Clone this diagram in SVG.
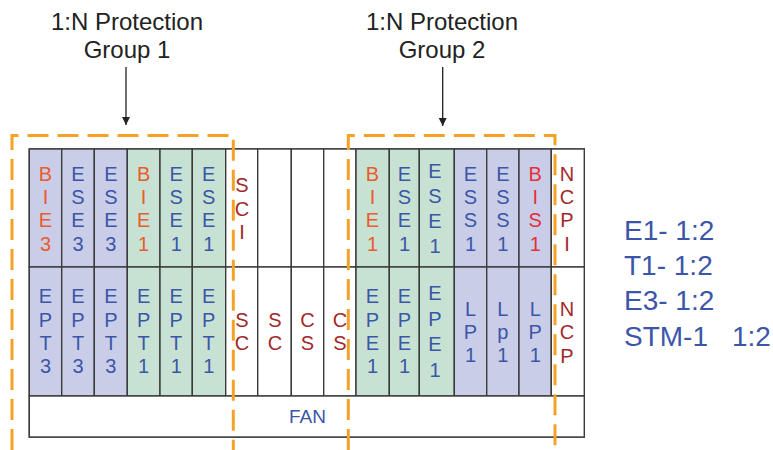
<svg xmlns="http://www.w3.org/2000/svg" width="773" height="450" viewBox="0 0 773 450">
<style>
.bg{fill:#ffffff}
.slot{stroke:#3a3a3a;stroke-width:1.4}
.p{fill:#c9cde7}
.g{fill:#c7e2d3}
.w{fill:#ffffff}
text{font-family:"Liberation Sans",Arial,sans-serif}
.t{font-size:20px;text-anchor:middle}
.f{font-size:19px;text-anchor:middle}
.b{fill:#3b56a8}
.o{fill:#ec5a2c}
.r{fill:#e3303a}
.d{fill:#a2292a}
.title{font-size:24px;fill:#222;text-anchor:middle}
.leg{font-size:28px;fill:#3b56a8}
.grp{fill:none;stroke:#f4a227;stroke-width:3;stroke-dasharray:21 9}
.arr{stroke:#222;stroke-width:1.3;fill:none}
</style>
<defs>
<marker id="ah" markerWidth="10" markerHeight="10" refX="8" refY="5" orient="auto" markerUnits="userSpaceOnUse">
<path d="M0,1 L8,5 L0,9 Z" fill="#222"/>
</marker>
</defs>
<rect class="bg" x="0" y="0" width="773" height="450"/>

<g id="titles">
<text class="title" x="127" y="30">1:N Protection</text>
<text class="title" x="127" y="58">Group 1</text>
<text class="title" x="442" y="30">1:N Protection</text>
<text class="title" x="442" y="58">Group 2</text>
</g>

<g id="chassis">
<rect class="slot w" x="29.3" y="149" width="555" height="288"/>
</g>

<g id="t0"><rect class="slot p" x="29.3" y="149" width="32.4" height="118"/><text class="t o" x="45.5" y="180.7">B<tspan x="45.5" dy="23.3">I</tspan><tspan x="45.5" dy="23.3">E</tspan><tspan x="45.5" dy="23.3">3</tspan></text></g>
<g id="t1"><rect class="slot p" x="61.7" y="149" width="32.6" height="118"/><text class="t b" x="78" y="180.7">E<tspan x="78" dy="23.3">S</tspan><tspan x="78" dy="23.3">E</tspan><tspan x="78" dy="23.3">3</tspan></text></g>
<g id="t2"><rect class="slot p" x="94.3" y="149" width="33" height="118"/><text class="t b" x="110.8" y="180.7">E<tspan x="110.8" dy="23.3">S</tspan><tspan x="110.8" dy="23.3">E</tspan><tspan x="110.8" dy="23.3">3</tspan></text></g>
<g id="t3"><rect class="slot g" x="127.3" y="149" width="32.7" height="118"/><text class="t o" x="143.6" y="180.7">B<tspan x="143.6" dy="23.3">I</tspan><tspan x="143.6" dy="23.3">E</tspan><tspan x="143.6" dy="23.3">1</tspan></text></g>
<g id="t4"><rect class="slot g" x="160" y="149" width="32.3" height="118"/><text class="t b" x="176.2" y="180.7">E<tspan x="176.2" dy="23.3">S</tspan><tspan x="176.2" dy="23.3">E</tspan><tspan x="176.2" dy="23.3">1</tspan></text></g>
<g id="t5"><rect class="slot g" x="192.3" y="149" width="33.4" height="118"/><text class="t b" x="208.7" y="180.7">E<tspan x="208.7" dy="23.3">S</tspan><tspan x="208.7" dy="23.3">E</tspan><tspan x="208.7" dy="23.3">1</tspan></text></g>
<g id="t6"><rect class="slot w" x="225.7" y="149" width="32" height="118"/><text class="t d" x="242" y="192.3">S<tspan x="242" dy="23.4">C</tspan><tspan x="242" dy="23.4">I</tspan></text></g>
<g id="t7"><rect class="slot w" x="257.7" y="149" width="33.6" height="118"/></g>
<g id="t8"><rect class="slot w" x="291.3" y="149" width="32.4" height="118"/></g>
<g id="t9"><rect class="slot w" x="323.7" y="149" width="32.3" height="118"/></g>
<g id="t10"><rect class="slot g" x="356" y="149" width="33.3" height="118"/><text class="t o" x="372.5" y="180.7">B<tspan x="372.5" dy="23.3">I</tspan><tspan x="372.5" dy="23.3">E</tspan><tspan x="372.5" dy="23.3">1</tspan></text></g>
<g id="t11"><rect class="slot g" x="389.3" y="149" width="30" height="118"/><text class="t b" x="404.5" y="180.7">E<tspan x="404.5" dy="23.3">S</tspan><tspan x="404.5" dy="23.3">E</tspan><tspan x="404.5" dy="23.3">1</tspan></text></g>
<g id="t12"><rect class="slot g" x="419.3" y="149" width="35" height="118"/><text class="t b" x="435" y="177.5">E<tspan x="435" dy="25">S</tspan><tspan x="435" dy="25">E</tspan><tspan x="435" dy="25">1</tspan></text></g>
<g id="t13"><rect class="slot p" x="454.3" y="149" width="32.4" height="118"/><text class="t b" x="470.5" y="180.7">E<tspan x="470.5" dy="23.3">S</tspan><tspan x="470.5" dy="23.3">S</tspan><tspan x="470.5" dy="23.3">1</tspan></text></g>
<g id="t14"><rect class="slot p" x="486.7" y="149" width="32.3" height="118"/><text class="t b" x="502.8" y="180.7">E<tspan x="502.8" dy="23.3">S</tspan><tspan x="502.8" dy="23.3">S</tspan><tspan x="502.8" dy="23.3">1</tspan></text></g>
<g id="t15"><rect class="slot p" x="519" y="149" width="32.3" height="118"/><text class="t r" x="535.2" y="180.7">B<tspan x="535.2" dy="23.3">I</tspan><tspan x="535.2" dy="23.3">S</tspan><tspan x="535.2" dy="23.3">1</tspan></text></g>
<g id="t16"><rect class="slot w" x="551.3" y="149" width="33" height="118"/><text class="t d" x="567" y="180.7">N<tspan x="567" dy="23.3">C</tspan><tspan x="567" dy="23.3">P</tspan><tspan x="567" dy="23.3">I</tspan></text></g>

<g id="b0"><rect class="slot p" x="29.3" y="267" width="32.4" height="129"/><text class="t b" x="45.5" y="303.3">E<tspan x="45.5" dy="23.3">P</tspan><tspan x="45.5" dy="23.3">T</tspan><tspan x="45.5" dy="23.3">3</tspan></text></g>
<g id="b1"><rect class="slot p" x="61.7" y="267" width="32.6" height="129"/><text class="t b" x="78" y="303.3">E<tspan x="78" dy="23.3">P</tspan><tspan x="78" dy="23.3">T</tspan><tspan x="78" dy="23.3">3</tspan></text></g>
<g id="b2"><rect class="slot p" x="94.3" y="267" width="33" height="129"/><text class="t b" x="110.8" y="303.3">E<tspan x="110.8" dy="23.3">P</tspan><tspan x="110.8" dy="23.3">T</tspan><tspan x="110.8" dy="23.3">3</tspan></text></g>
<g id="b3"><rect class="slot g" x="127.3" y="267" width="32.7" height="129"/><text class="t b" x="143.6" y="303.3">E<tspan x="143.6" dy="23.3">P</tspan><tspan x="143.6" dy="23.3">T</tspan><tspan x="143.6" dy="23.3">1</tspan></text></g>
<g id="b4"><rect class="slot g" x="160" y="267" width="32.3" height="129"/><text class="t b" x="176.2" y="303.3">E<tspan x="176.2" dy="23.3">P</tspan><tspan x="176.2" dy="23.3">T</tspan><tspan x="176.2" dy="23.3">1</tspan></text></g>
<g id="b5"><rect class="slot g" x="192.3" y="267" width="33.4" height="129"/><text class="t b" x="208.7" y="303.3">E<tspan x="208.7" dy="23.3">P</tspan><tspan x="208.7" dy="23.3">T</tspan><tspan x="208.7" dy="23.3">1</tspan></text></g>
<g id="b6"><rect class="slot w" x="225.7" y="267" width="32" height="129"/><text class="t d" x="242" y="326.7">S<tspan x="242" dy="23.3">C</tspan></text></g>
<g id="b7"><rect class="slot w" x="257.7" y="267" width="33.6" height="129"/><text class="t d" x="275" y="326.7">S<tspan x="275" dy="23.3">C</tspan></text></g>
<g id="b8"><rect class="slot w" x="291.3" y="267" width="32.4" height="129"/><text class="t d" x="307.5" y="326.7">C<tspan x="307.5" dy="23.3">S</tspan></text></g>
<g id="b9"><rect class="slot w" x="323.7" y="267" width="32.3" height="129"/><text class="t d" x="340" y="326.7">C<tspan x="340" dy="23.3">S</tspan></text></g>
<g id="b10"><rect class="slot g" x="356" y="267" width="33.3" height="129"/><text class="t b" x="372.5" y="303.3">E<tspan x="372.5" dy="23.3">P</tspan><tspan x="372.5" dy="23.3">E</tspan><tspan x="372.5" dy="23.3">1</tspan></text></g>
<g id="b11"><rect class="slot g" x="389.3" y="267" width="30" height="129"/><text class="t b" x="404.5" y="303.3">E<tspan x="404.5" dy="23.3">P</tspan><tspan x="404.5" dy="23.3">E</tspan><tspan x="404.5" dy="23.3">1</tspan></text></g>
<g id="b12"><rect class="slot g" x="419.3" y="267" width="35" height="129"/><text class="t b" x="435" y="300">E<tspan x="435" dy="25.5">P</tspan><tspan x="435" dy="25.5">E</tspan><tspan x="435" dy="25.5">1</tspan></text></g>
<g id="b13"><rect class="slot p" x="454.3" y="267" width="32.4" height="129"/><text class="t b" x="470.5" y="315.7">L<tspan x="470.5" dy="23.3">P</tspan><tspan x="470.5" dy="23.3">1</tspan></text></g>
<g id="b14"><rect class="slot p" x="486.7" y="267" width="32.3" height="129"/><text class="t b" x="502.8" y="315.7">L<tspan x="502.8" dy="23.3">p</tspan><tspan x="502.8" dy="23.3">1</tspan></text></g>
<g id="b15"><rect class="slot p" x="519" y="267" width="32.3" height="129"/><text class="t b" x="535.2" y="315.7">L<tspan x="535.2" dy="23.3">P</tspan><tspan x="535.2" dy="23.3">1</tspan></text></g>
<g id="b16"><rect class="slot w" x="551.3" y="267" width="33" height="129"/><text class="t d" x="567" y="316">N<tspan x="567" dy="23.3">C</tspan><tspan x="567" dy="23.3">P</tspan></text></g>

<g id="fan"><rect class="slot w" x="29.3" y="396" width="555" height="41"/><text class="f b" x="307.5" y="423">FAN</text></g>

<g id="groups">
<path class="grp" d="M12,450 V135.5 H233.3 V450"/>
<path class="grp" d="M348.3,450 V135.5 H555 V450"/>
</g>

<g id="connectors">
<line class="arr" x1="126" y1="67" x2="126" y2="125" marker-end="url(#ah)"/>
<line class="arr" x1="442.7" y1="67" x2="442.7" y2="126" marker-end="url(#ah)"/>
</g>

<g id="legend">
<text class="leg" x="624" y="240">E1- 1:2</text>
<text class="leg" x="624" y="275">T1- 1:2</text>
<text class="leg" x="624" y="310">E3- 1:2</text>
<text class="leg" x="624" y="346">STM-1<tspan x="732">1:2</tspan></text>
</g>
</svg>
